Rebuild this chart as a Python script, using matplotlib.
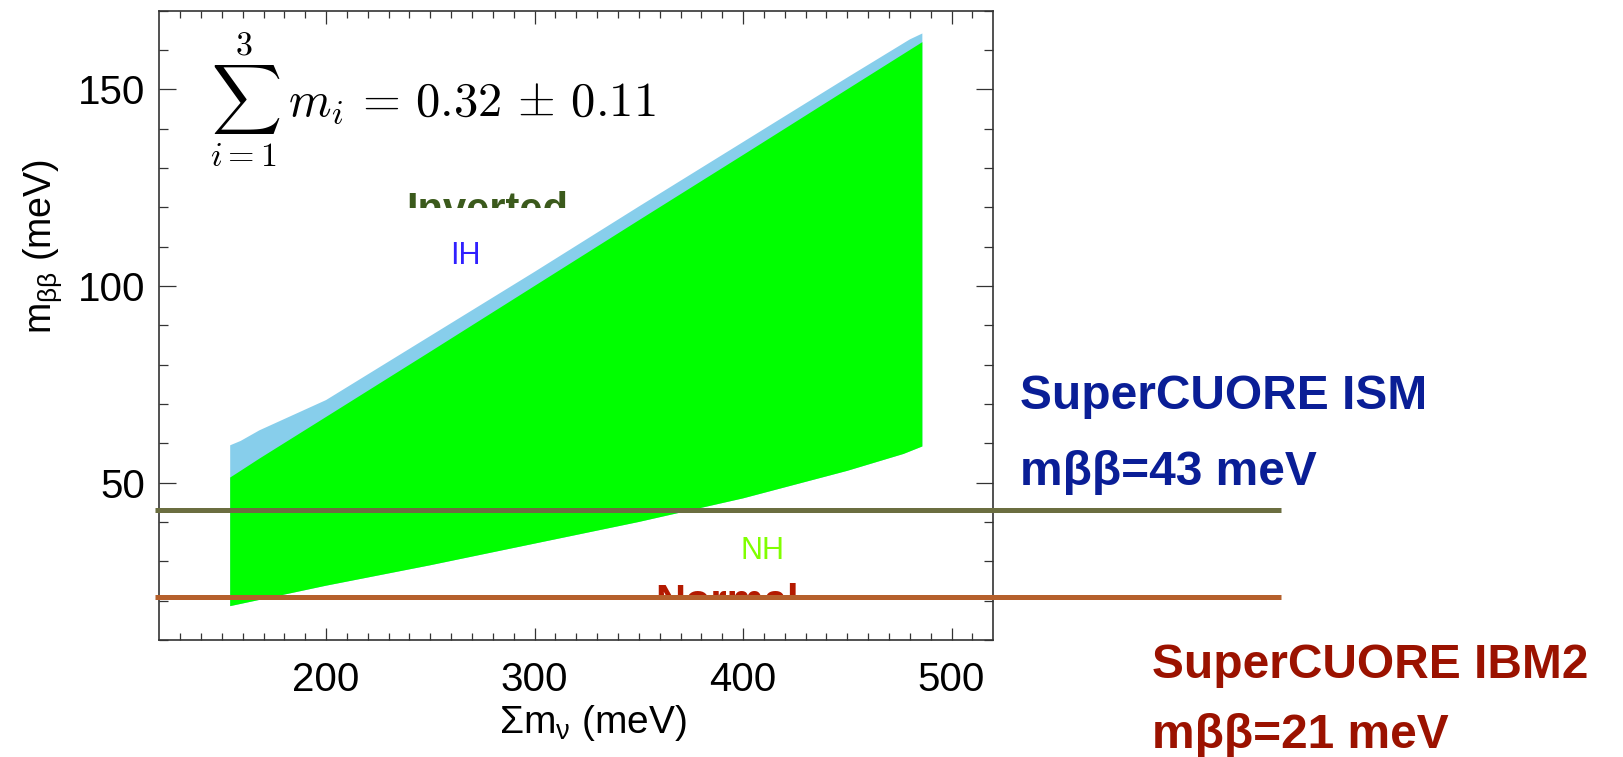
import matplotlib
matplotlib.use("Agg")
import matplotlib.pyplot as plt
from matplotlib.transforms import Bbox, TransformedBbox
import numpy as np

plt.rcParams['font.family'] = ['Liberation Sans', 'DejaVu Sans']
plt.rcParams['mathtext.fontset'] = 'custom'
plt.rcParams['mathtext.rm'] = 'Liberation Sans'
plt.rcParams['mathtext.it'] = 'Liberation Sans'
plt.rcParams['mathtext.bf'] = 'Liberation Sans:bold'

# normal hierarchy band (green)
nh_low_x = [154, 200, 250, 300, 350, 400, 450, 477, 486]
nh_low = [18.6, 23.8, 29.0, 34.5, 40.0, 46.0, 53.0, 57.3, 59.2]
nh_high_x = [154, 159, 168, 200, 250, 300, 350, 400, 450, 480, 486]
nh_high = [51.3, 53.0, 56.1, 66.7, 83.3, 100.0, 116.7, 133.3, 150.0, 160.0, 162.0]

# inverted hierarchy band (light blue), top edge
ih_high_x = [154, 159, 168, 200, 250, 300, 350, 400, 450, 480, 486]
ih_high = [59.5, 60.6, 63.3, 71.0, 87.3, 103.6, 120.2, 136.6, 153.0, 162.7, 164.2]

# SuperCUORE sensitivities (meV)
ism_limit = 43
ibm2_limit = 21

fig = plt.figure(figsize=(16.24, 7.57), dpi=100)
ax = fig.add_axes([0.0981, 0.1546, 0.5135, 0.8313])

ax.fill(np.concatenate([nh_low_x, ih_high_x[::-1]]),
        np.concatenate([nh_low, ih_high[::-1]]),
        color='#87ceeb', lw=0, zorder=1)
ax.fill(np.concatenate([nh_low_x, nh_high_x[::-1]]),
        np.concatenate([nh_low, nh_high[::-1]]),
        color='#00ff00', lw=0, zorder=2)

ax.set_xlim(120, 520)
ax.set_ylim(10, 170)
ax.set_xticks([200, 300, 400, 500])
ax.set_xticks(np.arange(130, 520, 10), minor=True)
ax.set_yticks([50, 100, 150])
ax.set_yticks(np.arange(10, 171, 10), minor=True)
ax.tick_params(which='both', direction='in', top=True, right=True,
               color='#333333', width=0.9, labelsize=29)
ax.tick_params(axis='x', which='major', length=9, pad=15)
ax.tick_params(axis='x', which='minor', length=5)
ax.tick_params(axis='y', which='major', length=12, pad=10)
ax.tick_params(axis='y', which='minor', length=6.5)
for s in ax.spines.values():
    s.set_color('#333333')
    s.set_linewidth(1.2)

ax.set_xlabel(r'$\Sigma$m$_{\nu}$ (meV)', fontsize=28)
ax.xaxis.set_label_coords(0.52, -0.10)
ax.set_ylabel(r'm$_{\beta\beta}$ (meV)', fontsize=27)
ax.yaxis.set_label_coords(-0.114, 0.626)

ax.text(0.0608, 0.8316, r'$\sum_{i=1}^{3}\; m_i \,=\, 0.32 \,\pm\, 0.11$',
        transform=ax.transAxes, fontsize=35, math_fontfamily='cm',
        ha='left', va='baseline')

ax.text(267, 107.6, 'IH', color='#3020ff', fontsize=22, ha='center', va='center')
ax.text(409.4, 32.6, 'NH', color='#80ff00', fontsize=22, ha='center', va='center')

# hierarchy names, cut off at the bottom
inv = ax.text(277.5, 116.2, 'Inverted', color='#3b5a1c', fontsize=30,
              fontweight='bold', ha='center', va='baseline', zorder=3)
inv.set_clip_on(True)
inv.set_clip_box(TransformedBbox(Bbox.from_extents(0, (757 - 208) / 757, 1, 1),
                                 fig.transFigure))
nor = ax.text(392.5, 16.5, 'Normal', color='#b41a00', fontsize=30,
              fontweight='bold', ha='center', va='baseline', zorder=3)
nor.set_clip_on(True)
nor.set_clip_box(TransformedBbox(Bbox.from_extents(0, (757 - 598) / 757, 1, 1),
                                 fig.transFigure))

ax.hlines(ism_limit, -0.005, 1.345, transform=ax.get_yaxis_transform(),
          color='#6b6e40', lw=3.6, clip_on=False, zorder=5)
ax.hlines(ibm2_limit, -0.005, 1.345, transform=ax.get_yaxis_transform(),
          color='#b5602c', lw=3.6, clip_on=False, zorder=5)

fig.text(1020 / 1624, 1 - 409 / 757, 'SuperCUORE ISM', color='#0a1e96',
         fontsize=34.5, fontweight='bold', ha='left', va='baseline')
fig.text(1020 / 1624, 1 - 485 / 757, 'mββ=43 meV', color='#0a1e96',
         fontsize=34.5, fontweight='bold', ha='left', va='baseline')
fig.text(1152 / 1624, 1 - 678 / 757, 'SuperCUORE IBM2', color='#9b1200',
         fontsize=34.5, fontweight='bold', ha='left', va='baseline')
fig.text(1152 / 1624, 1 - 748 / 757, 'mββ=21 meV', color='#9b1200',
         fontsize=34.5, fontweight='bold', ha='left', va='baseline')

fig.savefig('out.png', dpi=100)
